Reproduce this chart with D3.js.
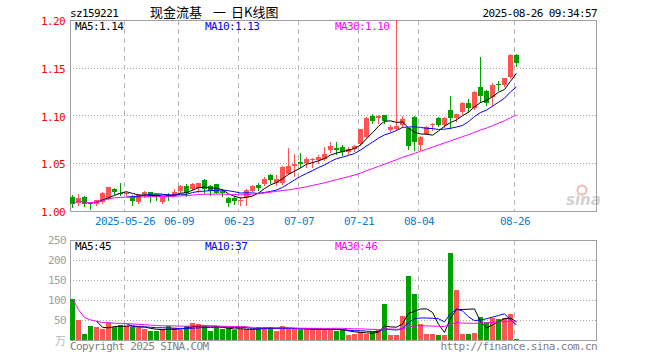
<!DOCTYPE html>
<html>
<head>
<meta charset="utf-8">
<script src="https://cdn.jsdelivr.net/npm/d3@7"></script>
<style>
body { margin: 0; background: #fff; }
svg { display: block; }
.mono { font-family: "DejaVu Sans Mono", monospace; font-size: 11px; letter-spacing: -0.6px; }
.cjk { font-family: "Noto Sans CJK SC", sans-serif; font-size: 13px; }
</style>
</head>
<body>
<svg id="chart" width="660" height="360"></svg>
<script>
// trading days, 2025
var dates = [
  "05-13","05-14","05-15","05-16","05-19","05-20","05-21","05-22","05-23","05-26",
  "05-27","05-28","05-29","05-30","06-03","06-04","06-05","06-06","06-09","06-10",
  "06-11","06-12","06-13","06-16","06-17","06-18","06-19","06-20","06-23","06-24",
  "06-25","06-26","06-27","06-30","07-01","07-02","07-03","07-04","07-07","07-08",
  "07-09","07-10","07-11","07-14","07-15","07-16","07-17","07-18","07-21","07-22",
  "07-23","07-24","07-25","07-28","07-29","07-30","07-31","08-01","08-04","08-05",
  "08-06","08-07","08-08","08-11","08-12","08-13","08-14","08-15","08-18","08-19",
  "08-20","08-21","08-22","08-25","08-26"
];

var open = [
  1.015,1.008,1.015,1.008,1.007,1.009,1.013,1.023,1.019,1.018,
  1.016,1.009,1.018,1.020,1.018,1.009,1.017,1.016,1.021,1.026,
  1.023,1.024,1.032,1.026,1.028,1.021,1.014,1.014,1.011,1.015,
  1.021,1.027,1.028,1.038,1.029,1.029,1.039,1.047,1.051,1.050,
  1.053,1.053,1.054,1.064,1.066,1.067,1.062,1.065,1.070,1.078,
  1.099,1.097,1.100,1.085,1.086,1.090,1.087,1.098,1.069,1.081,
  1.090,1.097,1.090,1.106,1.097,1.104,1.113,1.108,1.130,1.126,
  1.119,1.133,1.132,1.140,1.163
];
var high = [
  1.017,1.018,1.016,1.009,1.012,1.020,1.025,1.024,1.029,1.020,
  1.017,1.018,1.021,1.020,1.018,1.016,1.019,1.023,1.027,1.028,
  1.029,1.029,1.033,1.027,1.028,1.023,1.015,1.016,1.015,1.023,
  1.027,1.029,1.036,1.039,1.038,1.047,1.066,1.060,1.061,1.057,
  1.055,1.059,1.067,1.072,1.072,1.069,1.067,1.069,1.086,1.098,
  1.102,1.100,1.101,1.090,1.200,1.099,1.087,1.099,1.079,1.089,
  1.092,1.098,1.098,1.120,1.102,1.114,1.117,1.126,1.161,1.127,
  1.134,1.136,1.139,1.164,1.164
];
var low = [
  1.004,1.006,1.005,1.002,1.006,1.008,1.013,1.018,1.017,1.017,
  1.006,1.008,1.015,1.009,1.011,1.008,1.012,1.016,1.020,1.016,
  1.022,1.020,1.019,1.017,1.019,1.016,1.005,1.007,1.006,1.006,
  1.021,1.022,1.027,1.029,1.027,1.028,1.039,1.037,1.046,1.046,
  1.046,1.050,1.053,1.062,1.060,1.059,1.060,1.063,1.069,1.077,
  1.092,1.092,1.092,1.084,1.085,1.088,1.065,1.064,1.064,1.081,
  1.085,1.089,1.088,1.087,1.094,1.102,1.104,1.107,1.114,1.111,
  1.111,1.127,1.131,1.139,1.152
];
var close = [
  1.007,1.014,1.007,1.007,1.011,1.019,1.025,1.020,1.018,1.019,
  1.010,1.017,1.020,1.016,1.016,1.015,1.016,1.020,1.026,1.019,
  1.028,1.029,1.023,1.021,1.019,1.019,1.008,1.010,1.012,1.022,
  1.026,1.024,1.033,1.032,1.034,1.046,1.047,1.049,1.049,1.054,
  1.054,1.057,1.060,1.068,1.064,1.062,1.065,1.068,1.086,1.097,
  1.094,1.099,1.094,1.088,1.089,1.096,1.068,1.072,1.078,1.088,
  1.091,1.090,1.097,1.097,1.102,1.113,1.108,1.125,1.120,1.113,
  1.132,1.132,1.139,1.163,1.155
];
// volume, 万
var volume = [
  103,49,16,34,33,27,42,32,38,34,
  32,31,27,22,22,27,34,29,25,35,
  43,40,34,22,34,28,29,24,27,27,
  27,32,33,33,22,35,27,27,24,27,
  27,27,27,27,23,25,12,15,21,16,
  21,25,90,12,12,60,160,115,40,15,
  15,12,12,218,126,14,14,17,58,46,
  55,53,55,64,2
];

var tickDates  = ["05-26","06-09","06-23","07-07","07-21","08-04","08-26"];
var tickLabels = ["2025-05-26","06-09","06-23","07-07","07-21","08-04","08-26"];
var priceTicks = [1.00, 1.05, 1.10, 1.15, 1.20];
var volTicks = [50, 100, 150, 200, 250];
var priceMaText = ["MA5:1.14", "MA10:1.13", "MA30:1.10"];
var volMaText = ["MA5:45", "MA10:37", "MA30:46"];
var titleParts = ["现金流基", "一", "日K线图"];

var red = "#ff5454", green = "#00a000";
var maColors = ["#000000", "#0000ff", "#ff00ff"];
var left = 70, right = 597;
var pTop = 20, pBottom = 211, vTop = 240, vBottom = 340;

var svg = d3.select("#chart");

var x = d3.scaleBand()
    .domain(dates)
    .range([left, left + 6 * dates.length - 1])
    .paddingInner(1 / 6)
    .paddingOuter(0);
var y = d3.scaleLinear().domain([1.0, 1.2]).range([pBottom, pTop]);
var yv = d3.scaleLinear().domain([0, 250]).range([vBottom, vTop]);

// moving average; MA30 is averaged over what is available at the start
function movingAvg(values, n, partial) {
  return values.map(function (v, i) {
    if (i < n - 1 && !partial) return null;
    return d3.mean(values.slice(Math.max(0, i - n + 1), i + 1));
  });
}

var rows = dates.map(function (d, i) {
  return { date: d, o: open[i], h: high[i], l: low[i], c: close[i], v: volume[i],
           up: close[i] >= open[i] };
});

// header
svg.append("text").attr("class", "mono").attr("x", 70).attr("y", 17).text("sz159221");
var titleX = [150, 213, 231];
titleParts.forEach(function (t, k) {
  svg.append("text").attr("class", "cjk").attr("x", titleX[k]).attr("y", 17).text(t);
});
svg.append("text").attr("class", "mono").attr("x", 597).attr("y", 17)
    .attr("text-anchor", "end").text("2025-08-26 09:34:57");

function panelGrid(scale, ticks, top, bottom) {
  var g = svg.append("g");
  g.selectAll("line.h").data(ticks.filter(function (t) {
      var p = scale(t); return p > top + 1 && p < bottom - 1; }))
    .enter().append("line")
    .attr("x1", left).attr("x2", right)
    .attr("y1", function (t) { return Math.round(scale(t)) + 0.5; })
    .attr("y2", function (t) { return Math.round(scale(t)) + 0.5; })
    .attr("stroke", "#a8a8a8").attr("stroke-dasharray", "1,2");
  g.selectAll("line.v").data(tickDates).enter().append("line")
    .attr("x1", function (d) { return x(d) + 0.5; })
    .attr("x2", function (d) { return x(d) + 0.5; })
    .attr("y1", top).attr("y2", bottom)
    .attr("stroke", "#b4b4b4").attr("stroke-dasharray", "5,4");
  g.append("rect")
    .attr("x", left + 0.5).attr("y", top + 0.5)
    .attr("width", right - left - 1).attr("height", bottom - top)
    .attr("fill", "none").attr("stroke", "#a0a0a0");
}

panelGrid(y, priceTicks, pTop, pBottom);
panelGrid(yv, volTicks, vTop, vBottom);

// y labels
svg.append("g").selectAll("text").data(priceTicks).enter().append("text")
  .attr("class", "mono").attr("x", 65).attr("y", function (t) { return y(t) + 5; })
  .attr("text-anchor", "end").attr("fill", "#ff0000")
  .text(function (t) { return d3.format(".2f")(t); });
svg.append("g").selectAll("text").data(volTicks).enter().append("text")
  .attr("class", "mono").attr("x", 66).attr("y", function (t) { return yv(t) + 4; })
  .attr("text-anchor", "end").attr("fill", "#a0a0a0")
  .text(function (t) { return t; });
svg.append("text").attr("class", "cjk").attr("x", 66).attr("y", 345)
  .attr("text-anchor", "end").attr("fill", "#b8b8b8").style("font-size", "11px").text("万");

// date labels
svg.append("g").selectAll("text").data(tickDates).enter().append("text")
  .attr("class", "mono").attr("x", function (d) { return x(d) + 1; }).attr("y", 225)
  .attr("text-anchor", "middle").attr("fill", "#0a80cc")
  .text(function (d, i) { return tickLabels[i]; });

// candles
var candles = svg.append("g").attr("shape-rendering", "crispEdges");
candles.selectAll("line").data(rows).enter().append("line")
  .attr("x1", function (d) { return x(d.date) + 2.5; })
  .attr("x2", function (d) { return x(d.date) + 2.5; })
  .attr("y1", function (d) { return Math.round(y(d.h)); })
  .attr("y2", function (d) { return Math.round(y(d.l)) + 1; })
  .attr("stroke", function (d) { return d.up ? red : green; });
candles.selectAll("rect").data(rows).enter().append("rect")
  .attr("x", function (d) { return x(d.date); })
  .attr("width", x.bandwidth())
  .attr("y", function (d) { return Math.round(y(Math.max(d.o, d.c))); })
  .attr("height", function (d) {
    return Math.max(1, Math.round(y(Math.min(d.o, d.c))) - Math.round(y(Math.max(d.o, d.c))));
  })
  .attr("fill", function (d) { return d.up ? red : green; });

// volume bars
svg.append("g").attr("shape-rendering", "crispEdges")
  .selectAll("rect").data(rows).enter().append("rect")
  .attr("x", function (d) { return x(d.date); })
  .attr("width", x.bandwidth())
  .attr("y", function (d) { return Math.round(yv(d.v)); })
  .attr("height", function (d) { return vBottom - Math.round(yv(d.v)); })
  .attr("fill", function (d) { return d.up ? red : green; });

// MA lines
function drawMa(values, scale) {
  var series = [movingAvg(values, 5, false), movingAvg(values, 10, false), movingAvg(values, 30, true)];
  series.forEach(function (s, k) {
    var line = d3.line()
      .defined(function (v) { return v != null; })
      .x(function (v, i) { return x(dates[i]) + 2.5; })
      .y(function (v) { return scale(v); });
    svg.append("path").datum(s)
      .attr("d", line).attr("fill", "none")
      .attr("stroke", maColors[k]).attr("stroke-width", 1);
  });
}
drawMa(close, y);
drawMa(volume, yv);

// MA legends
var maX = [75, 205, 335];
priceMaText.forEach(function (t, k) {
  svg.append("text").attr("class", "mono").attr("x", maX[k]).attr("y", 30)
    .attr("fill", maColors[k]).text(t);
});
volMaText.forEach(function (t, k) {
  svg.append("text").attr("class", "mono").attr("x", maX[k]).attr("y", 250)
    .attr("fill", maColors[k]).text(t);
});

// footer
svg.append("text").attr("class", "mono").attr("x", 70).attr("y", 350)
  .attr("fill", "#808080").text("Copyright 2025 SINA.COM");
svg.append("text").attr("class", "mono").attr("x", 597).attr("y", 350)
  .attr("text-anchor", "end").attr("fill", "#808080").text("http://finance.sina.com.cn");

// sina watermark
var logo = svg.append("g").attr("opacity", 0.4);
logo.append("circle").attr("cx", 582).attr("cy", 190).attr("r", 4.5)
  .attr("fill", "none").attr("stroke", "#e05050").attr("stroke-width", 2);
logo.append("text").attr("x", 566).attr("y", 205)
  .style("font-family", "DejaVu Sans, sans-serif").style("font-size", "15px")
  .style("font-weight", "bold").style("font-style", "italic")
  .attr("fill", "#909090").text("sina");
</script>
</body>
</html>
